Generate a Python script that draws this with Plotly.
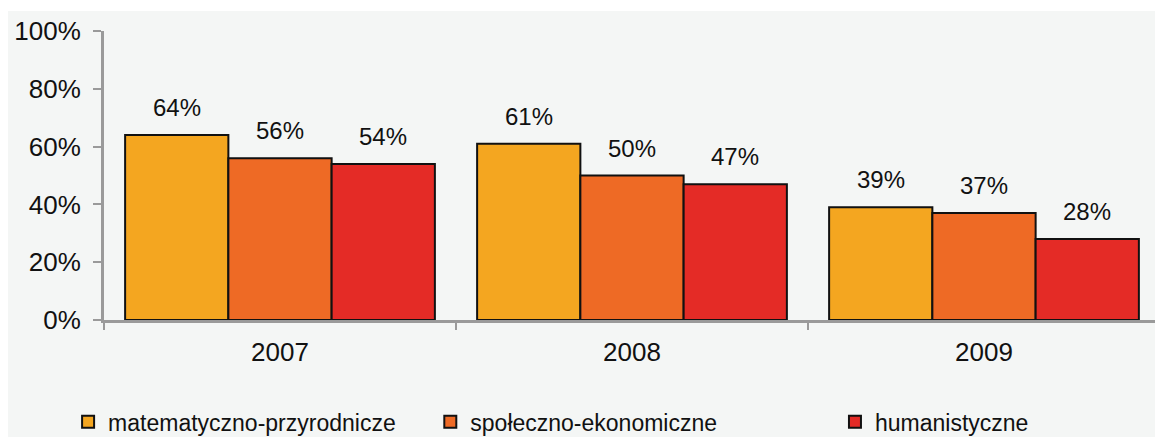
import plotly.graph_objects as go

years = ["2007", "2008", "2009"]
series_names = ["matematyczno-przyrodnicze", "społeczno-ekonomiczne", "humanistyczne"]
mat_przyr = [64, 61, 39]
spol_ekon = [56, 50, 37]
human = [54, 47, 28]
y_tick_vals = [0, 20, 40, 60, 80, 100]
y_tick_text = ["0%", "20%", "40%", "60%", "80%", "100%"]

colors = ["#F4A620", "#EE6A25", "#E42B26"]
series_values = [mat_przyr, spol_ekon, human]
legend_ids = ["legend", "legend2", "legend3"]
legend_x = [-0.0340, 0.3090, 0.6922]

BARGAP = 0.12
FONT = "Liberation Sans, Arial, sans-serif"

fig = go.Figure()
for name, vals, col, lg in zip(series_names, series_values, colors, legend_ids):
    fig.add_trace(go.Bar(
        name=name, x=years, y=vals, legend=lg,
        marker=dict(color=col, line=dict(color="#111111", width=2)),
    ))

# value labels above bars, positioned on the axis scales
w = (1 - BARGAP) / len(series_values)
annotations = []
for k, vals in enumerate(series_values):
    for i, v in enumerate(vals):
        annotations.append(dict(
            x=i + (k - (len(series_values) - 1) / 2) * w, y=v,
            xref="x", yref="y", text=f"{v}%", showarrow=False,
            yanchor="bottom", yshift=12,
            font=dict(family=FONT, size=24, color="#111111"),
        ))

legend_style = dict(
    orientation="h", xanchor="left", y=-0.352, yanchor="middle",
    font=dict(family=FONT, size=23, color="#111111"),
    bgcolor="rgba(0,0,0,0)",
)

# the page body adds an 8px white margin on the left and top
fig.update_layout(
    width=1155, height=429,
    margin=dict(l=96, r=3, t=23, b=117, autoexpand=False),
    paper_bgcolor="white",
    plot_bgcolor="rgba(0,0,0,0)",
    barmode="group", bargap=BARGAP, bargroupgap=0,
    font=dict(family=FONT, color="#111111"),
    showlegend=True,
    legend=dict(x=legend_x[0], **legend_style),
    legend2=dict(x=legend_x[1], **legend_style),
    legend3=dict(x=legend_x[2], **legend_style),
    annotations=annotations,
    shapes=[dict(
        type="rect", xref="paper", yref="paper",
        x0=-0.1, x1=1.02, y0=-0.6, y1=1.0692,
        fillcolor="#F4F6F5", line=dict(width=0), layer="below",
    )],
)

fig.update_yaxes(
    range=[0, 100], tickvals=y_tick_vals, ticktext=y_tick_text,
    ticks="outside", ticklen=8, tickwidth=2, tickcolor="#9A9A9A",
    showline=True, linecolor="#9A9A9A", linewidth=3,
    showgrid=False, zeroline=False, automargin=False,
    tickfont=dict(family=FONT, size=26, color="#111111"),
    ticklabelstandoff=7,
)
fig.update_xaxes(
    type="category", tickson="boundaries",
    ticks="outside", ticklen=7, tickwidth=2, tickcolor="#9A9A9A",
    showline=True, linecolor="#9A9A9A", linewidth=3,
    showgrid=False, automargin=False,
    tickfont=dict(family=FONT, size=26, color="#111111"),
    ticklabelstandoff=7,
)

fig.write_html("out.html")
